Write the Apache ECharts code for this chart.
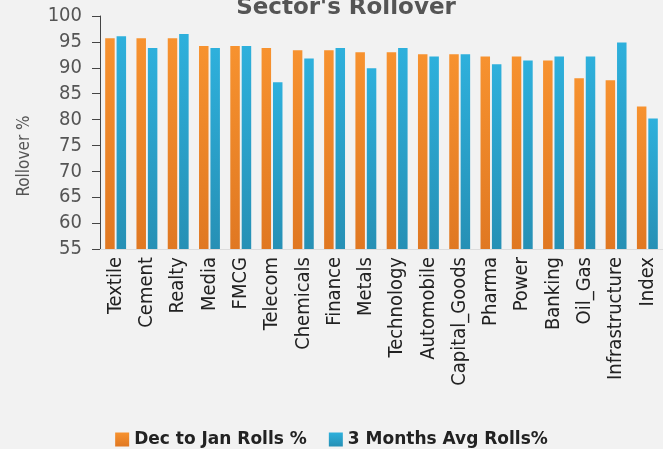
<!DOCTYPE html>
<html>
<head>
<meta charset="utf-8">
<script src="https://cdn.jsdelivr.net/npm/echarts@6/dist/echarts.min.js"></script>
<style>
  html, body { margin: 0; padding: 0; background: #f2f2f2; }
  #main { width: 663px; height: 449px; }
</style>
</head>
<body>
<div id="main"></div>
<script>
var sectors = ['Textile', 'Cement', 'Realty', 'Media', 'FMCG', 'Telecom', 'Chemicals', 'Finance', 'Metals',
    'Technology', 'Automobile', 'Capital_Goods', 'Pharma', 'Power', 'Banking', 'Oil_Gas', 'Infrastructure', 'Index'];
var decToJan = [95.7, 95.7, 95.7, 94.2, 94.2, 93.8, 93.4, 93.4, 93.0, 93.0, 92.6, 92.6, 92.2, 92.2, 91.4, 88.0, 87.6, 82.5];
var threeMonthAvg = [96.1, 93.8, 96.5, 93.8, 94.2, 87.2, 91.8, 93.8, 89.9, 93.8, 92.2, 92.6, 90.7, 91.4, 92.2, 92.2, 94.9, 80.2];
var seriesNames = ['Dec to Jan Rolls %', '3 Months Avg Rolls%'];

var font = '"DejaVu Sans Condensed", "DejaVu Sans", sans-serif';
var wideFont = '"DejaVu Sans", sans-serif';

function grad(top, bottom) {
    return new echarts.graphic.LinearGradient(0, 0, 0, 1, [
        { offset: 0, color: top },
        { offset: 1, color: bottom }
    ]);
}

var chart = echarts.init(document.getElementById('main'));
chart.setOption({
    backgroundColor: '#f2f2f2',
    animation: false,
    title: {
        text: "Sector's Rollover",
        left: 341,
        textAlign: 'center',
        top: -8,
        textStyle: { fontFamily: wideFont, fontSize: 23, fontWeight: 'bold', color: '#555' }
    },
    graphic: [{
        type: 'text',
        x: 25,
        y: 156,
        rotation: Math.PI / 2,
        style: {
            text: 'Rollover %',
            font: '17px ' + font,
            fill: '#555',
            textAlign: 'center',
            textVerticalAlign: 'middle'
        }
    }],
    legend: {
        data: seriesNames,
        top: 426,
        left: 'center',
        itemWidth: 14,
        itemHeight: 14,
        itemGap: 22,
        icon: 'rect',
        textStyle: { fontFamily: wideFont, fontSize: 17, fontWeight: 'bold', color: '#222' }
    },
    grid: { left: 100, top: 16, width: 569, bottom: 200 },
    xAxis: {
        type: 'category',
        data: sectors,
        axisLine: { lineStyle: { color: '#dcdcdc' } },
        axisTick: { show: false },
        axisLabel: { rotate: 90, interval: 0, fontFamily: font, fontSize: 20, color: '#222', margin: 8 }
    },
    yAxis: {
        type: 'value',
        min: 55,
        max: 100,
        interval: 5,
        axisLine: { show: true, lineStyle: { color: '#444' } },
        axisTick: { show: true, length: 8, lineStyle: { color: '#444' } },
        axisLabel: { fontFamily: font, fontSize: 20, color: '#555', margin: 18 },
        splitLine: { show: false }
    },
    series: [
        {
            name: seriesNames[0],
            type: 'bar',
            data: decToJan,
            barWidth: 9.5,
            barGap: '20%',
            itemStyle: { color: grad('#f7922f', '#e07822') }
        },
        {
            name: seriesNames[1],
            type: 'bar',
            data: threeMonthAvg,
            barWidth: 9.5,
            itemStyle: { color: grad('#2eb0dc', '#2690b5') }
        }
    ]
});
</script>
</body>
</html>
